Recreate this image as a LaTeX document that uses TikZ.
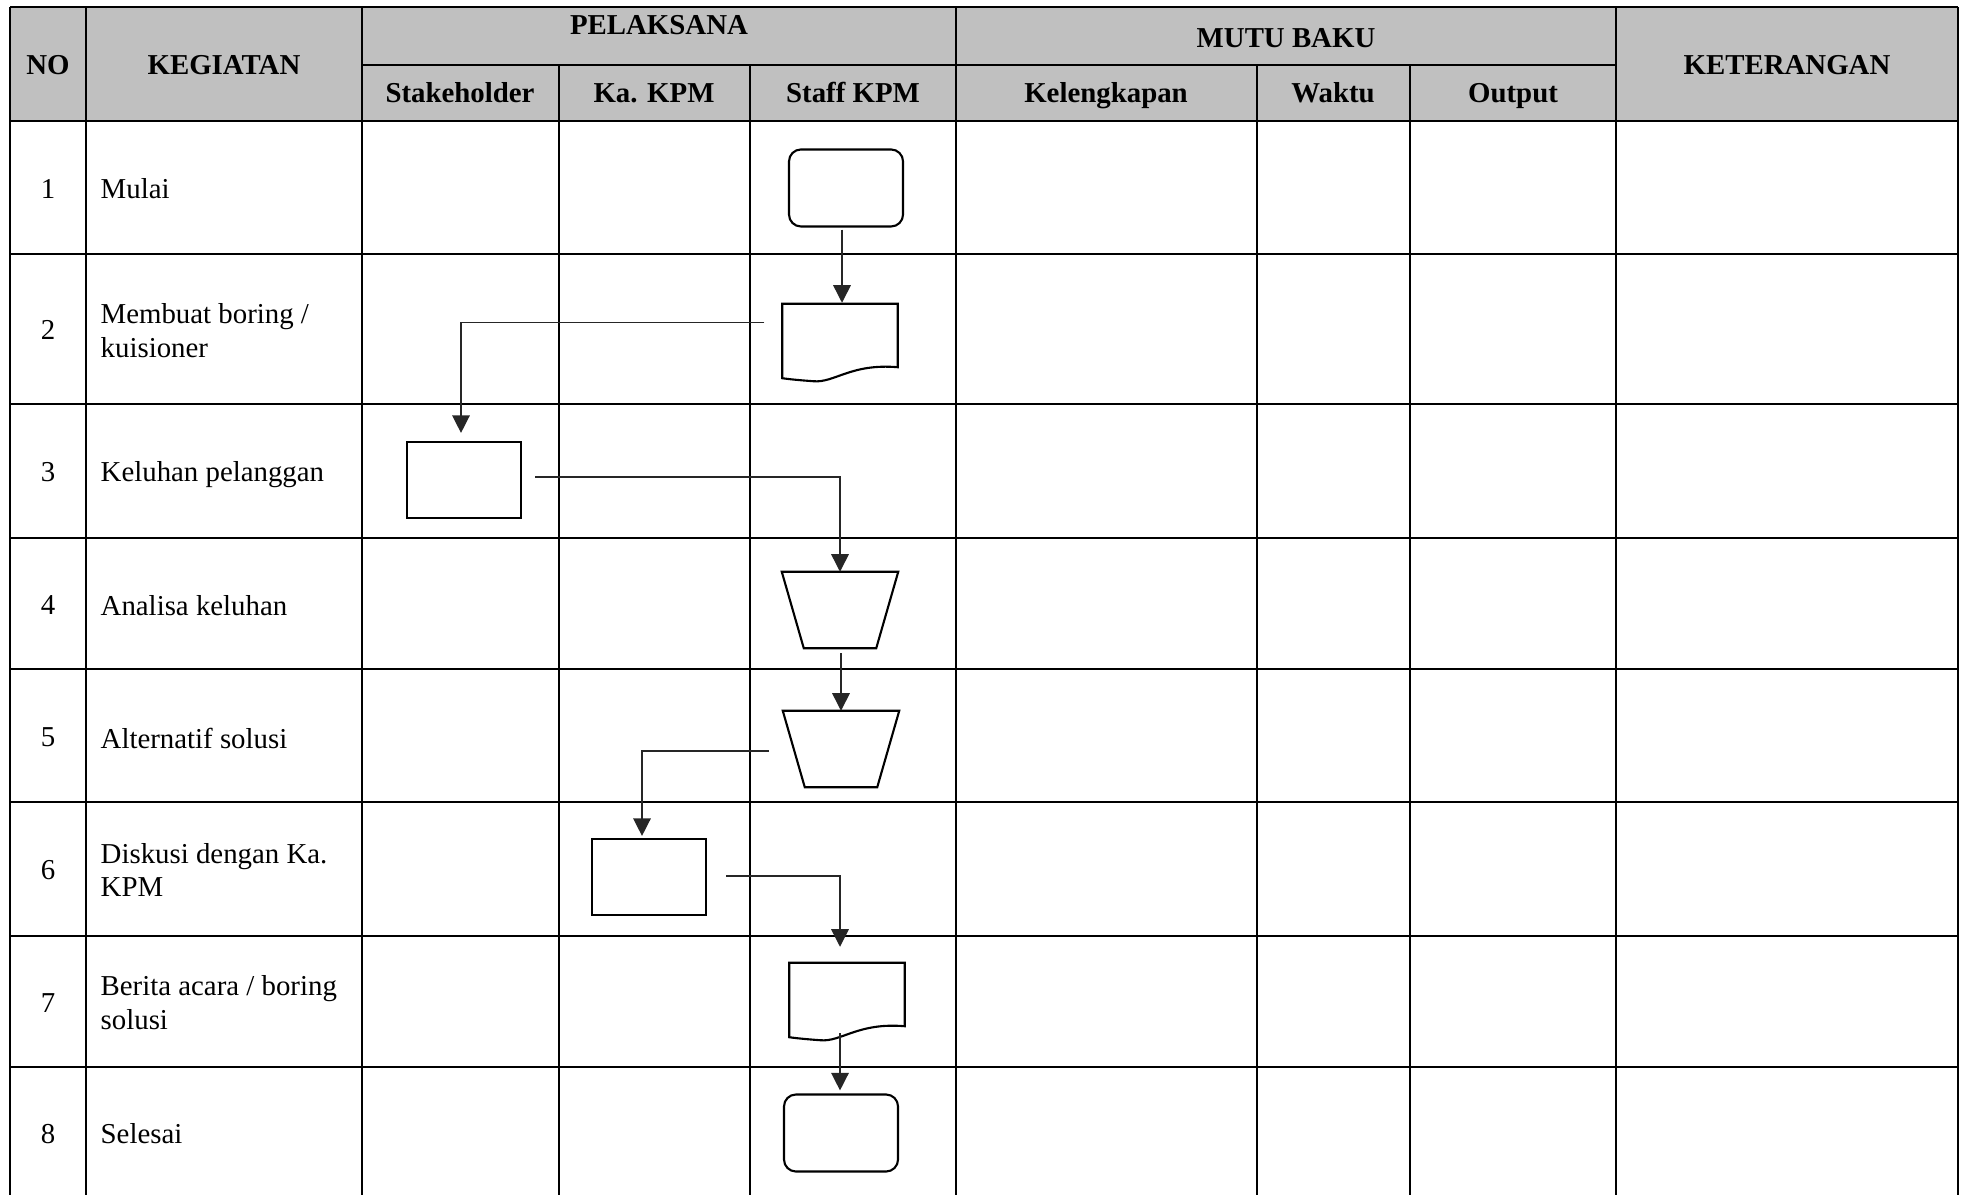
\documentclass[tikz,border=0pt]{standalone}
\usepackage{fontspec}
\setmainfont{Liberation Serif}
\usetikzlibrary{arrows.meta, calc}
\definecolor{hdrgray}{RGB}{192,192,192}

% outline of a "document" box drawn round a named (invisible) node
\newcommand{\docoutline}[1]{%
  \draw[shapeline] (#1.south west) -- (#1.north west) -- (#1.north east)
    -- ($(#1.south east)+(0,-11)$)
    .. controls ($(#1.south east)+(-47,-15)$) and ($(#1.south west)+(52,5)$) .. ($(#1.south west)+(31,3)$)
    .. controls ($(#1.south west)+(17,2)$) and ($(#1.south west)+(7,1)$) .. (#1.south west) -- cycle;}
% outline of a "manual operation" box (upside-down trapezium)
\newcommand{\manoutline}[1]{%
  \draw[shapeline] (#1.north west) -- (#1.north east)
    -- ($(#1.south east)+(-22,0)$) -- ($(#1.south west)+(22,0)$) -- cycle;}

\begin{document}
\begin{tikzpicture}[
    x=0.01cm, y=-0.01cm,
    font=\fontsize{8.2}{9.6}\selectfont,
    grid/.style={line width=0.65pt},
    shapeline/.style={line width=0.6pt},
    head/.style={font=\fontsize{8.2}{9.6}\selectfont\bfseries, anchor=base, inner sep=0pt},
    num/.style={inner sep=0pt},
    act/.style={align=left, anchor=west, inner sep=0pt},
    terminal/.style={draw, shapeline, rounded corners=0.12cm, minimum width=1.14cm, minimum height=0.77cm, inner sep=0pt},
    process/.style={draw, shapeline, minimum width=1.14cm, minimum height=0.76cm, inner sep=0pt},
    docbox/.style={minimum width=1.14cm, minimum height=0.73cm, inner sep=0pt},
    manbox/.style={minimum width=1.15cm, minimum height=0.75cm, inner sep=0pt},
    flow/.style={line width=0.4pt, black!85, -{Triangle[width=5pt,length=5pt]}},
  ]

  \useasboundingbox (0,0) rectangle (1961,1195);

  % ---- table ------------------------------------------------------------
  \fill[hdrgray] (10,7) rectangle (1958,121);
  \draw[grid] (10,7) -- (1958,7);
  \draw[grid] (362,65) -- (1616,65);
  \foreach \y in {121,254,404,538,669,802,936,1067}
    \draw[grid] (10,\y) -- (1958,\y);
  \foreach \x in {10,86,362,956,1616,1958}
    \draw[grid] (\x,7) -- (\x,1195);
  \foreach \x in {559,750,1257,1410}
    \draw[grid] (\x,65) -- (\x,1195);

  % ---- header -----------------------------------------------------------
  \node[head] (hNo)   at (48,75)   {NO};
  \node[head] (hKeg)  at (224,75)  {KEGIATAN};
  \node[head] (hPel)  at (659,35)  {PELAKSANA};
  \node[head] (hMutu) at (1286,48) {MUTU BAKU};
  \node[head] (hKet)  at (1787,75) {KETERANGAN};
  \node[head] (hStk)  at (460,103) {Stakeholder};
  \node[head] (hKa)   at (654,103) {Ka. KPM};
  \node[head] (hStf)  at (853,103) {Staff KPM};
  \node[head] (hKel)  at (1106,103) {Kelengkapan};
  \node[head] (hWkt)  at (1333,103) {Waktu};
  \node[head] (hOut)  at (1513,103) {Output};

  % ---- rows -------------------------------------------------------------
  \node[num] (n1) at (48,189)  {1};
  \node[num] (n2) at (48,330)  {2};
  \node[num] (n3) at (48,472)  {3};
  \node[num] (n4) at (48,605)  {4};
  \node[num] (n5) at (48,737)  {5};
  \node[num] (n6) at (48,870)  {6};
  \node[num] (n7) at (48,1003) {7};
  \node[num] (n8) at (48,1134) {8};

  \node[act] (a1) at (100,189)  {Mulai};
  \node[act] (a2) at (100,331)  {Membuat boring /\\kuisioner};
  \node[act] (a3) at (100,475)  {Keluhan pelanggan};
  \node[act] (a4) at (100,606)  {Analisa keluhan};
  \node[act] (a5) at (100,738)  {Alternatif solusi};
  \node[act] (a6) at (100,870)  {Diskusi dengan Ka.\\KPM};
  \node[act] (a7) at (100,1003) {Berita acara / boring\\solusi};
  \node[act] (a8) at (100,1134) {Selesai};

  % ---- flow symbols -----------------------------------------------------
  \node[terminal] (T1) at (846,188)  {};
  \node[docbox]   (D2) at (840,341)  {};  \docoutline{D2}
  \node[process]  (R3) at (464,480)  {};
  \node[manbox]   (M4) at (840,610)  {};  \manoutline{M4}
  \node[manbox]   (M5) at (841,749)  {};  \manoutline{M5}
  \node[process]  (R6) at (649,877)  {};
  \node[docbox]   (D7) at (847,1000) {};  \docoutline{D7}
  \node[terminal] (T8) at (841,1133) {};

  % ---- connectors -------------------------------------------------------
  \draw[flow] ($(T1.south)+(-4,2)$) -- ($(D2.north)+(2,-1)$);
  \draw[flow] ($(D2.north west)+(-18,19)$) -| ($(R3.north)+(-3,-8)$);
  \draw[flow] ($(R3.east)+(13,-3)$) -| (M4.north);
  \draw[flow] ($(M4.south)+(1,5)$) -- (M5.north);
  \draw[flow] ($(M5.center)+(-72,2)$) -| ($(R6.north)+(-7,-2)$);
  \draw[flow] ($(R6.east)+(19,-1)$) -| ($(D7.north)+(-7,-16)$);
  \draw[flow] ($(D7.south)+(-7,-4)$) -- ($(T8.north)+(-1,-3)$);

\end{tikzpicture}
\end{document}
